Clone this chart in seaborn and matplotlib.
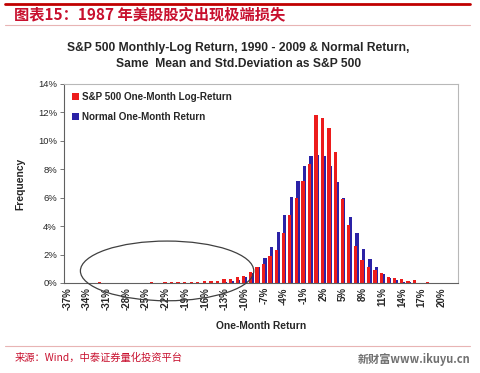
import numpy as np
import pandas as pd
import matplotlib.pyplot as plt
from matplotlib.patches import Ellipse
import seaborn as sns

# one-month return bins (%), -37% .. 22%
returns = list(range(-37, 23))

# S&P 500 one-month log-return frequency (%)
sp500_freq = [0, 0, 0, 0, 0, 0.1, 0, 0, 0, 0, 0, 0, 0,
              0.07, 0, 0.07, 0.07, 0.07, 0.07, 0.07, 0.1, 0.17, 0.17, 0.12, 0.3, 0.28, 0.4,
              0.5, 0.75, 1.1, 1.35, 1.9, 2.3, 3.5, 4.8, 5.95, 7.2, 8.4,
              11.83, 11.6, 10.9, 9.2, 5.9, 4.1, 2.6, 1.6, 1.15, 0.9, 0.7,
              0.42, 0.32, 0.25, 0.12, 0.2, 0, 0.1, 0, 0, 0, 0]

# normal one-month return frequency (%), same mean / std
normal_freq = [0] * 23 + \
              [0.03, 0.06, 0.12, 0.22, 0.4, 0.7, 1.1, 1.75, 2.5, 3.6, 4.8, 6.07, 7.2, 8.2,
               8.9, 9.0, 8.9, 8.2, 7.1, 5.95, 4.67, 3.55, 2.4, 1.7, 1.1, 0.65, 0.38, 0.2,
               0.1, 0.05, 0.02] + [0] * 6

tick_returns = returns[::3]
y_ticks = [0, 2, 4, 6, 8, 10, 12, 14]

header = "图表15：1987 年美股股灾出现极端损失"
chart_title = "S&P 500 Monthly-Log Return, 1990 - 2009 & Normal Return,\nSame  Mean and Std.Deviation as S&P 500"
source = "来源：Wind，中泰证券量化投资平台"
watermark = "新财富www.ikuyu.cn"

RED = "#ec1c1c"
BLUE = "#2b22a6"

sns.set_style("white")
plt.rcParams['font.family'] = ['Liberation Sans', 'Noto Sans CJK SC', 'DejaVu Sans']

df = pd.DataFrame({"ret": returns, "sp500": sp500_freq, "normal": normal_freq})
offset = 0.12  # clustered bars overlap, blue sits right behind red

fig = plt.figure(figsize=(4.8, 3.73), dpi=100)
ax = fig.add_axes([0.1333, 0.2413, 0.8208, 0.5335])

sns.barplot(x=df["ret"] + offset, y=df["normal"], native_scale=True, width=0.5,
            color=BLUE, saturation=1, linewidth=0, ax=ax, label="Normal One-Month Return")
sns.barplot(x=df["ret"] - offset, y=df["sp500"], native_scale=True, width=0.5,
            color=RED, saturation=1, linewidth=0, ax=ax, label="S&P 500 One-Month Log-Return")

ax.set_xlim(returns[0] - 0.5, returns[-1] + 0.5)
ax.set_ylim(0, 14)
ax.set_xticks(tick_returns)
ax.set_xticklabels([f"{v}%" for v in tick_returns], rotation=90, fontsize=7, fontweight="bold")
ax.set_yticks(y_ticks)
ax.set_yticklabels([f"{v}%" for v in y_ticks], fontsize=6.8)
ax.tick_params(axis="x", length=0, pad=3)
ax.tick_params(axis="y", length=3, width=0.6, color="#606060", pad=2, left=True)
ax.set_xlabel("One-Month Return", fontsize=7.4, fontweight="bold", labelpad=8)
ax.set_ylabel("Frequency", fontsize=7.4, fontweight="bold", labelpad=9)

for side in ["left", "bottom"]:
    ax.spines[side].set_color("#606060")
    ax.spines[side].set_linewidth(0.8)
for side in ["top", "right"]:
    ax.spines[side].set_color("#b8b8b8")
    ax.spines[side].set_linewidth(0.8)

handles, labels = ax.get_legend_handles_labels()
ax.legend(handles[::-1], labels[::-1], loc="upper left", frameon=False,
          prop={"size": 7.1, "weight": "bold"}, handlelength=0.7, handleheight=0.7,
          handletextpad=0.3, labelspacing=1.05, borderaxespad=0.4)

# highlight the fat left tail
ax.add_patch(Ellipse((-21.8, 0.85), 26.4, 4.2, fill=False, edgecolor="#404040",
                     linewidth=0.9, clip_on=False, zorder=5))

fig.text(0.497, 0.851, chart_title, ha="center", va="center", fontsize=8.7,
         fontweight="bold", linespacing=1.45)

# report header / footer
fig.add_artist(plt.Line2D([0.01, 0.98], [0.99, 0.99], color="#c00000", linewidth=2))
fig.add_artist(plt.Line2D([0.01, 0.98], [0.933, 0.933], color="#e8b4b4", linewidth=0.8))
fig.text(0.03, 0.962, header, ha="left", va="center", fontsize=11, fontweight="bold",
         style="italic", color="#c8102e", family=['Noto Sans CJK SC', 'DejaVu Sans'])
fig.add_artist(plt.Line2D([0.01, 0.98], [0.073, 0.073], color="#e8b4b4", linewidth=0.8))
fig.text(0.03, 0.04, source, ha="left", va="center", fontsize=7.4, color="#c8102e",
         family=['Noto Sans CJK SC', 'DejaVu Sans'])
fig.text(0.98, 0.035, watermark, ha="right", va="center", fontsize=8, fontweight="bold",
         color="#707070", family=['Noto Sans CJK SC', 'DejaVu Sans'])

fig.savefig("out.png", dpi=100)
plt.close(fig)
